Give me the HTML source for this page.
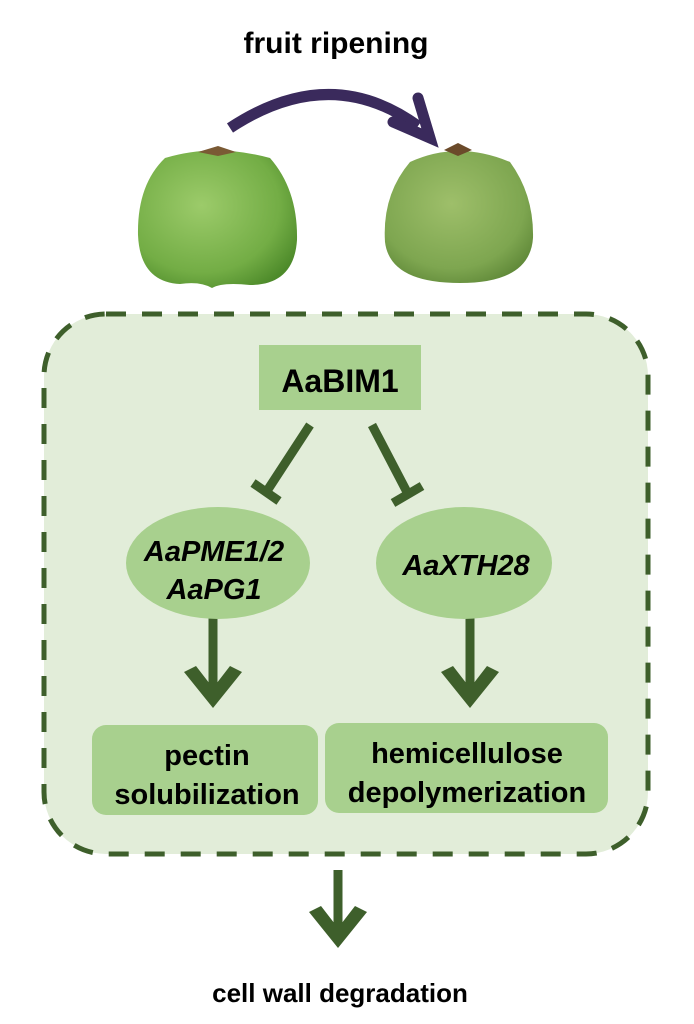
<!DOCTYPE html>
<html><head><meta charset="utf-8"><style>
html,body{margin:0;padding:0;background:#fff;}
svg{display:block;}
text{font-family:"Liberation Sans",sans-serif;font-weight:bold;fill:#000;}
</style></head><body>
<svg width="694" height="1024" viewBox="0 0 694 1024" xmlns="http://www.w3.org/2000/svg" font-family="Liberation Sans, sans-serif">
<defs>
<radialGradient id="f1" cx="0.4" cy="0.4" r="0.7">
<stop offset="0" stop-color="#9ccb6a"/><stop offset="0.7" stop-color="#73ad45"/><stop offset="1" stop-color="#4d8a2a"/>
</radialGradient>
<radialGradient id="f2" cx="0.45" cy="0.4" r="0.7">
<stop offset="0" stop-color="#9ebf6a"/><stop offset="0.7" stop-color="#7ea650"/><stop offset="1" stop-color="#5a8334"/>
</radialGradient>
</defs>
<text x="336" y="53" font-size="30" text-anchor="middle" font-family="Liberation Sans, sans-serif">fruit ripening</text>
<path d="M230 128 Q330 62 418 126" fill="none" stroke="#3a2a5c" stroke-width="11"/>
<path d="M393 122 L430 138 L418 98" fill="none" stroke="#3a2a5c" stroke-width="11" stroke-linejoin="miter" stroke-linecap="round"/>
<path d="M165 158 Q215 143 270 158 Q298 190 297 240 Q294 285 250 285 Q222 282 212 288 Q200 281 180 284 Q140 282 138 235 Q137 185 165 158Z" fill="url(#f1)"/>
<path d="M198 152 L218 146 L236 152 L218 156Z" fill="#7a5a34"/>
<path d="M410 162 Q458 140 510 162 Q534 195 533 238 Q530 283 460 283 Q390 283 385 242 Q382 195 410 162Z" fill="url(#f2)"/>
<path d="M444 150 L458 143 L472 150 L458 156Z" fill="#6b4a2a"/>
<rect x="44" y="314" width="604" height="540" rx="62" ry="62" fill="#e2edd9" stroke="#3e5f2b" stroke-width="5" stroke-dasharray="20 16"/>
<rect x="259" y="345" width="162" height="65" fill="#a8d08e"/>
<text x="340" y="392" font-size="32" text-anchor="middle" font-family="Liberation Sans, sans-serif">AaBIM1</text>
<g stroke="#3e5f2b" stroke-width="9" fill="none">
<line x1="310" y1="425" x2="265" y2="494"/>
<line x1="253" y1="483" x2="279" y2="501"/>
<line x1="372" y1="425" x2="408" y2="494"/>
<line x1="393" y1="503" x2="422" y2="486"/>
<line x1="213" y1="610" x2="213" y2="690"/>
<line x1="470" y1="610" x2="470" y2="690"/>
<line x1="338" y1="870" x2="338" y2="932"/>
</g>
<g fill="#3e5f2b" stroke="none">
<polygon points="184,672 196,666 213,688 230,666 242,672 213,708"/>
<polygon points="441,672 453,666 470,688 487,666 499,672 470,708"/>
<polygon points="309,912 321,906 338,928 355,906 367,912 338,948"/>
</g>
<ellipse cx="218" cy="563" rx="92" ry="56" fill="#a8d08e"/>
<ellipse cx="464" cy="563" rx="88" ry="56" fill="#a8d08e"/>
<text x="214" y="561" font-size="29" font-style="italic" text-anchor="middle" font-family="Liberation Sans, sans-serif">AaPME1/2</text>
<text x="214" y="599" font-size="29" font-style="italic" text-anchor="middle" font-family="Liberation Sans, sans-serif">AaPG1</text>
<text x="466" y="575" font-size="29" font-style="italic" text-anchor="middle" font-family="Liberation Sans, sans-serif">AaXTH28</text>
<rect x="92" y="725" width="226" height="90" rx="14" fill="#a8d08e"/>
<rect x="325" y="723" width="283" height="90" rx="14" fill="#a8d08e"/>
<text x="207" y="765" font-size="29" text-anchor="middle" font-family="Liberation Sans, sans-serif">pectin</text>
<text x="207" y="804" font-size="29" text-anchor="middle" font-family="Liberation Sans, sans-serif">solubilization</text>
<text x="467" y="763" font-size="29" text-anchor="middle" font-family="Liberation Sans, sans-serif">hemicellulose</text>
<text x="467" y="802" font-size="29" text-anchor="middle" font-family="Liberation Sans, sans-serif">depolymerization</text>
<text x="340" y="1002" font-size="26" text-anchor="middle" font-family="Liberation Sans, sans-serif">cell wall degradation</text>
</svg>
</body></html>
